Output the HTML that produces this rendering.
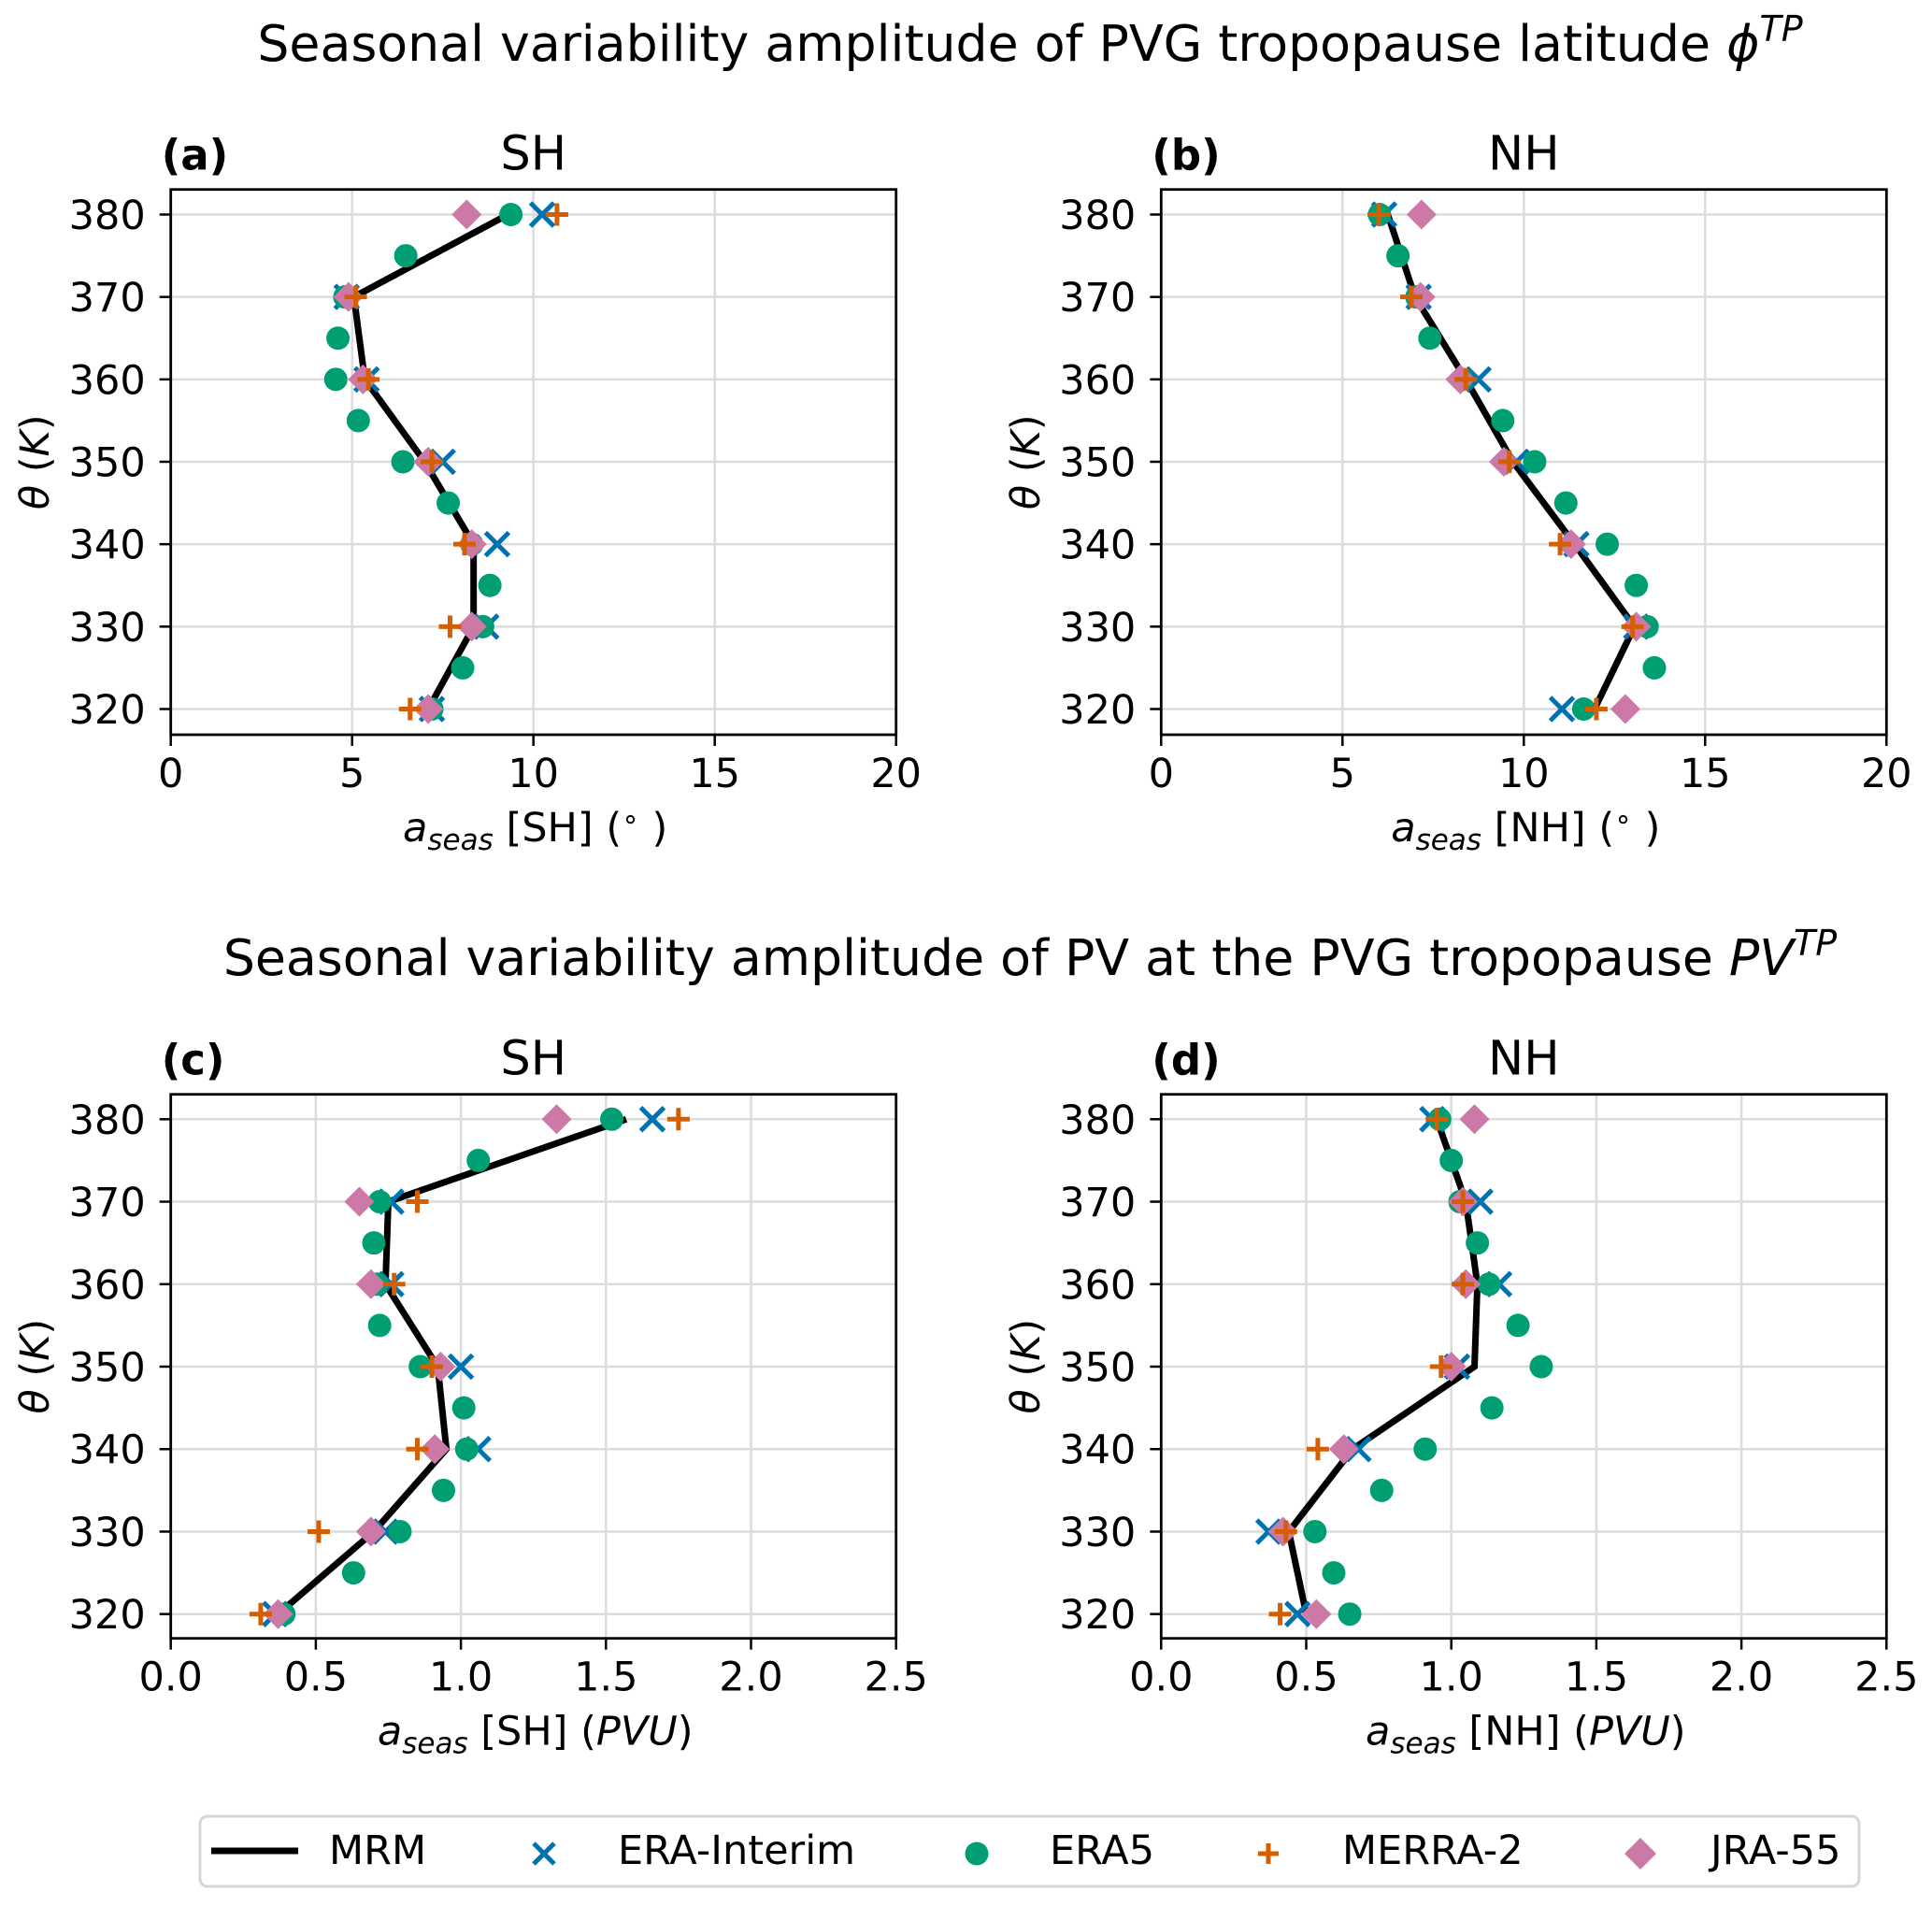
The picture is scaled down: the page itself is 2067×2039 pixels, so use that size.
<!DOCTYPE html>
<html><head><meta charset="utf-8"><style>
html,body{margin:0;padding:0;background:#fff;}
svg{display:block;font-family:"DejaVu Sans","Liberation Sans",sans-serif;}
</style></head><body>
<svg id="fig" width="2067" height="2039" viewBox="0 0 2067 2039" xmlns="http://www.w3.org/2000/svg">
<rect width="2067" height="2039" fill="#fff"/>
<text x="1102" y="65" font-size="53.7" text-anchor="middle">Seasonal variability amplitude of PVG tropopause latitude <tspan font-style="italic">ϕ</tspan><tspan font-style="italic" font-size="38" dy="-21">TP</tspan></text>
<text x="1102" y="1043" font-size="53.7" text-anchor="middle">Seasonal variability amplitude of PV at the PVG tropopause <tspan font-style="italic">PV</tspan><tspan font-style="italic" font-size="38" dy="-21">TP</tspan></text>
<g id="panels"></g>
<g id="legend"></g>
</svg>
<script>
const levels = [380, 370, 360, 350, 340, 330, 320];
const era5Levels = [380, 375, 370, 365, 360, 355, 350, 345, 340, 335, 330, 325, 320];

const aMRM   = [9.3, 5.05, 5.35, 7.0, 8.35, 8.35, 7.1];
const aERAI  = [10.24, 4.85, 5.4, 7.5, 9.0, 8.7, 7.2];
const aMERRA = [10.65, 5.1, 5.45, 7.2, 8.1, 7.7, 6.6];
const aJRA   = [8.16, 4.9, 5.3, 7.1, 8.3, 8.3, 7.1];
const aERA5  = [9.38, 6.48, 4.8, 4.61, 4.55, 5.17, 6.4, 7.65, 8.3, 8.8, 8.6, 8.05, 7.2];

const bMRM   = [6.25, 7.0, 8.4, 9.7, 11.4, 13.05, 11.95];
const bERAI  = [6.15, 7.1, 8.75, 9.8, 11.45, 13.1, 11.05];
const bMERRA = [6.0, 6.9, 8.4, 9.6, 11.0, 13.0, 12.0];
const bJRA   = [7.18, 7.15, 8.25, 9.45, 11.3, 13.1, 12.8];
const bERA5  = [6.02, 6.53, 7.05, 7.41, 8.3, 9.42, 10.3, 11.16, 12.3, 13.1, 13.4, 13.6, 11.65];

const cMRM   = [1.57, 0.75, 0.74, 0.92, 0.95, 0.70, 0.37];
const cERAI  = [1.66, 0.76, 0.76, 1.0, 1.06, 0.74, 0.36];
const cMERRA = [1.75, 0.85, 0.77, 0.90, 0.85, 0.51, 0.31];
const cJRA   = [1.33, 0.65, 0.69, 0.93, 0.91, 0.69, 0.37];
const cERA5  = [1.52, 1.06, 0.72, 0.70, 0.71, 0.72, 0.86, 1.01, 1.02, 0.94, 0.79, 0.63, 0.39];

const dMRM   = [0.95, 1.05, 1.09, 1.08, 0.66, 0.44, 0.50];
const dERAI  = [0.935, 1.10, 1.165, 1.02, 0.68, 0.37, 0.47];
const dMERRA = [0.95, 1.04, 1.04, 0.965, 0.54, 0.43, 0.41];
const dJRA   = [1.08, 1.04, 1.05, 1.0, 0.63, 0.42, 0.535];
const dERA5  = [0.96, 1.0, 1.03, 1.09, 1.13, 1.23, 1.31, 1.14, 0.91, 0.76, 0.53, 0.595, 0.65];

const yTicks = [380, 370, 360, 350, 340, 330, 320];
const xTicksDeg = ["0", "5", "10", "15", "20"];
const xTicksPV = ["0.0", "0.5", "1.0", "1.5", "2.0", "2.5"];

const C_ERAI = "#0072B2", C_ERA5 = "#009E73", C_MERRA = "#D55E00", C_JRA = "#CC79A7";
const NS = "http://www.w3.org/2000/svg";
function mk(tag, attrs, parent) {
  const e = document.createElementNS(NS, tag);
  for (const k in attrs) e.setAttribute(k, attrs[k]);
  parent.appendChild(e);
  return e;
}
function drawX(g, x, y, r, col) {
  mk('path', {d:`M${x-r},${y-r}L${x+r},${y+r}M${x-r},${y+r}L${x+r},${y-r}`, stroke:col, 'stroke-width':5, fill:'none'}, g);
}
function drawPlus(g, x, y, r, col) {
  mk('path', {d:`M${x-r},${y}L${x+r},${y}M${x},${y-r}L${x},${y+r}`, stroke:col, 'stroke-width':5, fill:'none'}, g);
}
function drawDiamond(g, x, y, r, col) {
  mk('path', {d:`M${x},${y-r}L${x+r},${y}L${x},${y+r}L${x-r},${y}Z`, fill:col}, g);
}

const panelsG = document.getElementById('panels');
const panels = [
  {id:'a', left:182.7, top:202.7, bottom:786, y380:229.5, y320:758.5, xmax:20, ticks:xTicksDeg, region:'SH', unit:'deg', mrm:aMRM, erai:aERAI, merra:aMERRA, jra:aJRA, era5:aERA5},
  {id:'b', left:1242.3, top:202.7, bottom:786, y380:229.5, y320:758.5, xmax:20, ticks:xTicksDeg, region:'NH', unit:'deg', mrm:bMRM, erai:bERAI, merra:bMERRA, jra:bJRA, era5:bERA5},
  {id:'c', left:182.7, top:1170.7, bottom:1752.7, y380:1197.3, y320:1726.7, xmax:2.5, ticks:xTicksPV, region:'SH', unit:'pv', mrm:cMRM, erai:cERAI, merra:cMERRA, jra:cJRA, era5:cERA5},
  {id:'d', left:1242.3, top:1170.7, bottom:1752.7, y380:1197.3, y320:1726.7, xmax:2.5, ticks:xTicksPV, region:'NH', unit:'pv', mrm:dMRM, erai:dERAI, merra:dMERRA, jra:dJRA, era5:dERA5}
];
const W = 776;
panels.forEach(p => {
  const g = mk('g', {}, panelsG);
  
  
  const sx = v => p.left + v / p.xmax * W;
  const sy = v => p.y320 + (v - 320) / 60 * (p.y380 - p.y320);
  const right = p.left + W;
  p.ticks.forEach(t => {
    const x = sx(parseFloat(t));
    const gl = mk('line', {x1:x, x2:x, y1:p.top, y2:p.bottom, stroke:'#dcdcdc', 'stroke-width':2.5}, g);
    
    
  });
  yTicks.forEach(t => {
    const y = sy(t);
    const gl = mk('line', {x1:p.left, x2:right, y1:y, y2:y, stroke:'#dcdcdc', 'stroke-width':2.5}, g);
    
    
  });
  const pts = levels.map((l, i) => `${sx(p.mrm[i])},${sy(l)}`).join(' ');
  const line = mk('polyline', {points:pts, fill:'none', stroke:'#000', 'stroke-width':7, 'stroke-linejoin':'miter'}, g);
  
  
  const gx = mk('g', {}, g);
  
  
  levels.forEach((l, i) => drawX(gx, sx(p.erai[i]), sy(l), 12.5, C_ERAI));
  const gc = mk('g', {}, g);
  
  
  era5Levels.forEach((l, i) => mk('circle', {cx:sx(p.era5[i]), cy:sy(l), r:12.5, fill:C_ERA5}, gc));
  const gd = mk('g', {}, g);
  
  
  levels.forEach((l, i) => drawDiamond(gd, sx(p.jra[i]), sy(l), 16, C_JRA));
  const gp = mk('g', {}, g);
  
  
  levels.forEach((l, i) => drawPlus(gp, sx(p.merra[i]), sy(l), 12, C_MERRA));
  const sp = mk('rect', {x:p.left, y:p.top, width:W, height:p.bottom - p.top, fill:'none', stroke:'#000', 'stroke-width':2.8}, g);
  
  
  p.ticks.forEach(t => {
    const x = sx(parseFloat(t));
    mk('line', {x1:x, x2:x, y1:p.bottom, y2:p.bottom + 12, stroke:'#000', 'stroke-width':2.5}, g);
    const tl = mk('text', {x:x, y:p.bottom + 56, 'font-size':43, 'text-anchor':'middle'}, g);
    tl.textContent = t;
    
    
  });
  yTicks.forEach(t => {
    const y = sy(t);
    mk('line', {x1:p.left - 12, x2:p.left, y1:y, y2:y, stroke:'#000', 'stroke-width':2.5}, g);
    const tl = mk('text', {x:p.left - 27, y:y + 15.5, 'font-size':43, 'text-anchor':'end'}, g);
    tl.textContent = t;
    
    
  });
  const pl = mk('text', {x:p.left - 10, y:p.top - 21, 'font-size':45, 'font-weight':'bold'}, g);
  pl.textContent = '(' + p.id + ')';
  
  
  const pt = mk('text', {x:p.left + W / 2, y:p.top - 21, 'font-size':51, 'text-anchor':'middle'}, g);
  pt.textContent = p.region;
  
  
  const xl = mk('text', {x:p.left + W / 2 + 2, y:p.bottom + 114, 'font-size':43, 'text-anchor':'middle'}, g);
  
  
  const unitStr = p.unit === 'deg' ? '(<tspan dy="-14" font-size="30">∘</tspan><tspan dy="14"> )</tspan>' : '(<tspan font-style="italic">PVU</tspan>)';
  xl.innerHTML = '<tspan font-style="italic">a</tspan><tspan font-style="italic" font-size="31" dy="9">seas</tspan><tspan dy="-9"> [' + p.region + '] </tspan>' + unitStr;
  const yc = (p.top + p.bottom) / 2;
  const yl = mk('text', {x:0, y:0, 'font-size':43, 'text-anchor':'middle', transform:`translate(52,${yc}) rotate(-90)`}, g);
  
  
  yl.innerHTML = '<tspan font-style="italic">θ</tspan> (<tspan font-style="italic">K</tspan>)';
  if (p.left > 1000) yl.setAttribute('transform', `translate(${52 + 1060},${yc}) rotate(-90)`);
});

const lg = document.getElementById('legend');
mk('rect', {x:214, y:1943, width:1775, height:75, rx:8, fill:'#fff', stroke:'#d6d6d6', 'stroke-width':3}, lg);
const ly = 1980;
mk('line', {x1:226, x2:319, y1:ly, y2:ly, stroke:'#000', 'stroke-width':7}, lg);
drawX(lg, 582, ly + 3, 11, C_ERAI);
mk('circle', {cx:1045, cy:ly + 3, r:12.5, fill:C_ERA5}, lg);
drawPlus(lg, 1357, ly + 3, 11, C_MERRA);
drawDiamond(lg, 1755, ly + 3, 17, C_JRA);
const labels = [["MRM", 352], ["ERA-Interim", 661], ["ERA5", 1123], ["MERRA-2", 1436], ["JRA-55", 1830]];
labels.forEach(([t, x]) => {
  const e = mk('text', {x:x, y:1994, 'font-size':43}, lg);
  e.textContent = t;
  
  
});
</script>
</body></html>
